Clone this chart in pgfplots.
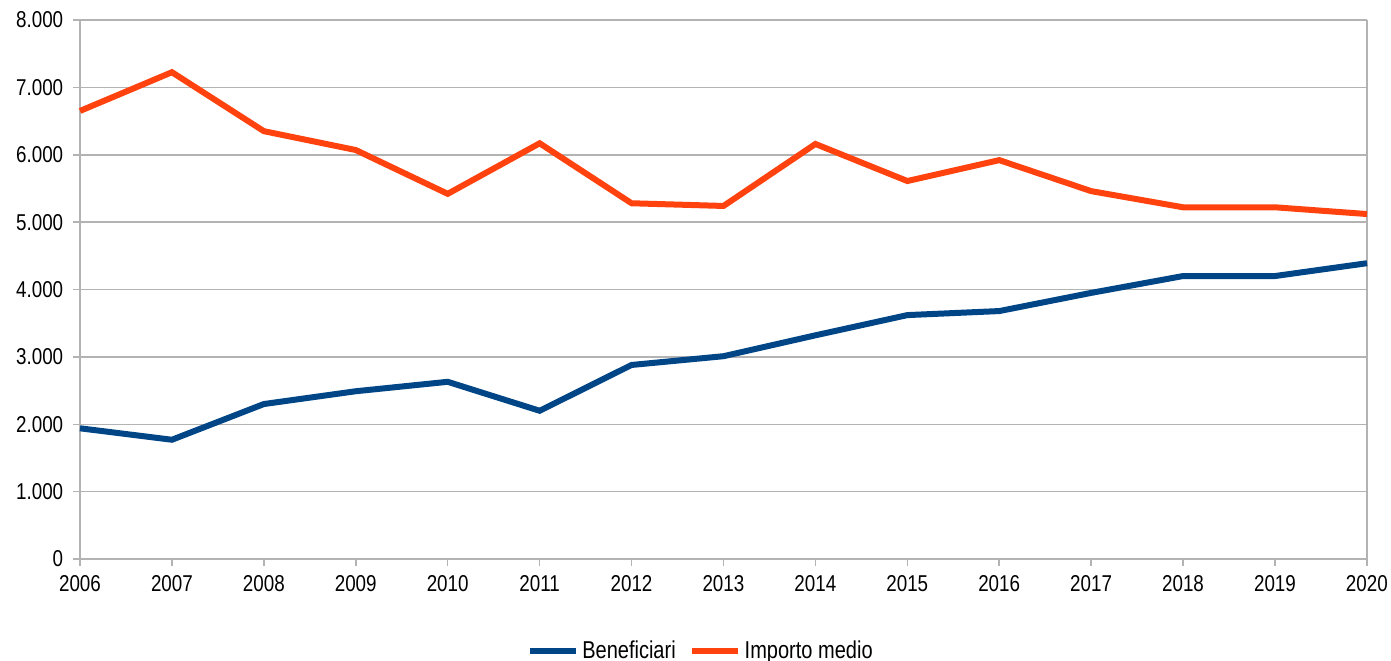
\documentclass[border=0pt]{standalone}
\usepackage{pgfplots}
\pgfplotsset{compat=1.18}
\usepackage{fontspec}
\setmainfont{Liberation Sans}[FakeStretch=0.82]
\definecolor{cblue}{HTML}{004586}
\definecolor{corange}{HTML}{FF420E}
\definecolor{cgrid}{HTML}{B3B3B3}
\begin{document}
\fontsize{23}{27}\selectfont
\begin{tikzpicture}
\path[use as bounding box] (-80bp,-102bp) rectangle (1311bp,559bp);
\begin{axis}[
  at={(0,0)}, anchor=south west,
  scale only axis, width=1287bp, height=539bp,
  xmin=2006, xmax=2020, ymin=0, ymax=8000,
  xtick={2006,...,2020}, ytick={0,1000,...,8000},
  axis x line*=bottom, axis y line*=left,
  axis line style={cgrid, line width=1.5bp, -},
  ymajorgrids, grid style={cgrid, line width=1.5bp},
  tick align=outside, major tick length=7bp,
  tick style={cgrid, line width=1.5bp},
  /pgf/number format/assume math mode=true,
  scaled y ticks=false,
  tick label style={font=\fontsize{23}{27}\selectfont, text=black},
  xticklabel style={/pgf/number format/1000 sep={}, yshift=-2bp},
  yticklabel style={/pgf/number format/1000 sep={.}, xshift=-2bp},
  legend style={draw=none, fill=none, inner sep=0pt, at={(0.3470,-0.1707)}, anchor=west, legend columns=2,
    font=\fontsize{24.5}{28}\selectfont,
    nodes={inner sep=3.5bp},
    /tikz/every even column/.append style={column sep=10bp}},
  legend image code/.code={\draw[#1, line width=6bp] (0bp,0bp) -- (46bp,0bp);},
  clip=false,
]
\draw[cgrid, line width=1.5bp] (axis cs:2020,0) -- (axis cs:2020,8000);
\addplot[cblue, line width=6bp] coordinates {
(2006,1940) (2007,1770) (2008,2300) (2009,2490) (2010,2630) (2011,2200) (2012,2880)
(2013,3010) (2014,3320) (2015,3620) (2016,3680) (2017,3950) (2018,4200) (2019,4200) (2020,4390)};
\addlegendentry{Beneficiari}
\addplot[corange, line width=6bp] coordinates {
(2006,6650) (2007,7225) (2008,6350) (2009,6070) (2010,5420) (2011,6170) (2012,5280)
(2013,5240) (2014,6160) (2015,5610) (2016,5920) (2017,5460) (2018,5220) (2019,5220) (2020,5120)};
\addlegendentry{Importo medio}
\end{axis}
\end{tikzpicture}
\end{document}
